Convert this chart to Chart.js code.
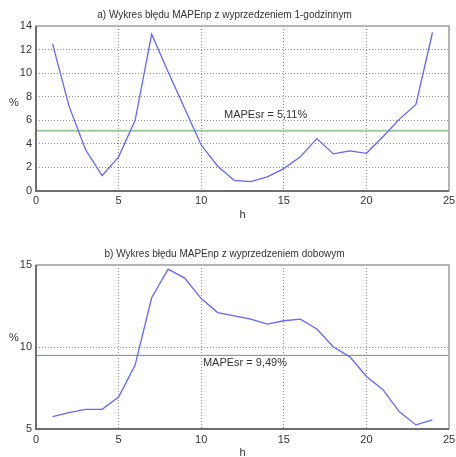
<!DOCTYPE html>
<html><head><meta charset="utf-8">
<script src="https://cdn.jsdelivr.net/npm/chart.js@4/dist/chart.umd.min.js"></script>
<style>
html,body{margin:0;padding:0;background:#fff;}
#w{position:relative;width:456px;height:457px;overflow:hidden;}
canvas{position:absolute;left:0;}
</style></head><body>
<div id="w">
<canvas id="c1" width="456" height="228" style="top:0;width:456px;height:228px"></canvas>
<canvas id="c2" width="456" height="229" style="top:228px;width:456px;height:229px"></canvas>
</div>
<script>
const hours = [1,2,3,4,5,6,7,8,9,10,11,12,13,14,15,16,17,18,19,20,21,22,23,24];
const errHourAhead = [12.5,7.2,3.5,1.3,2.9,6.0,13.3,10.1,7.0,3.9,2.1,0.9,0.8,1.2,1.9,2.9,4.45,3.15,3.4,3.2,4.6,6.1,7.35,13.45];
const errDayAhead = [5.75,6.0,6.2,6.2,6.95,8.9,13.0,14.75,14.2,12.95,12.1,11.9,11.7,11.4,11.6,11.7,11.1,10.0,9.4,8.2,7.4,6.05,5.25,5.55];
const meanHourAhead = 5.11;
const meanDayAhead = 9.49;
const titleTop = 'a) Wykres błędu MAPEnp z wyprzedzeniem 1-godzinnym';
const titleBottom = 'b) Wykres błędu MAPEnp z wyprzedzeniem dobowym';
const labelTop = 'MAPEsr = 5,11%';
const labelBottom = 'MAPEsr = 9,49%';
const xTicks = [0,5,10,15,20,25];
const yTicksTop = [0,2,4,6,8,10,12,14];
const yTicksBottom = [5,10,15];

const FONT = "'Liberation Sans', Arial, sans-serif";

function framePlugin(meanLabel, meanValue, labelX, labelDy, pctY, hY) {
  return {
    id: 'frame',
    afterDraw(chart) {
      const ctx = chart.ctx, a = chart.chartArea;
      const xs = chart.scales.x, ys = chart.scales.y;
      ctx.save();
      ctx.lineWidth = 2;
      ctx.strokeStyle = '#b4b4b4';
      ctx.beginPath();
      ctx.moveTo(a.left, a.top); ctx.lineTo(a.right, a.top); ctx.lineTo(a.right, a.bottom);
      ctx.stroke();
      ctx.strokeStyle = '#6e6e6e';
      ctx.beginPath();
      ctx.moveTo(a.left, a.top); ctx.lineTo(a.left, a.bottom); ctx.lineTo(a.right, a.bottom);
      ctx.stroke();
      ctx.fillStyle = '#333';
      ctx.font = '11px ' + FONT;
      ctx.textAlign = 'center';
      ctx.textBaseline = 'middle';
      ctx.fillText(meanLabel, xs.getPixelForValue(labelX), ys.getPixelForValue(meanValue) + labelDy);
      ctx.fillText('%', 14, pctY);
      ctx.fillText('h', (a.left + a.right) / 2, hY);
      ctx.restore();
    }
  };
}

function makeChart(cfg) {
  const {id, data, mean, title, yTicks, yMin, yMax, meanColor, meanWidth, titlePad, xAxisH, label, labelX, labelDy, pctY, hY, xPad} = cfg;
  return new Chart(document.getElementById(id), {
    type: 'line',
    data: {
      datasets: [
        {
          data: hours.map((h, i) => ({x: h, y: data[i]})),
          borderColor: '#6464ff', borderWidth: 1.3, pointRadius: 0, tension: 0, fill: false
        },
        {
          data: [{x: xTicks[0], y: mean}, {x: xTicks[xTicks.length - 1], y: mean}],
          borderColor: meanColor, borderWidth: meanWidth, pointRadius: 0, fill: false
        }
      ]
    },
    options: {
      responsive: false, animation: false, devicePixelRatio: 1,
      layout: {padding: {left: 0, right: 7, top: 0, bottom: 0}},
      plugins: {
        legend: {display: false}, tooltip: {enabled: false},
        title: {display: true, text: title, color: '#333', font: {family: FONT, size: 10, weight: 'normal'}, padding: titlePad}
      },
      scales: {
        x: {
          type: 'linear', min: 0, max: 25,
          afterBuildTicks: s => { s.ticks = xTicks.map(v => ({value: v})); },
          afterFit: s => { s.height = xAxisH; s.paddingRight = 0; s.paddingLeft = 0; },
          ticks: {color: '#333', font: {family: FONT, size: 11}, padding: xPad, maxRotation: 0, autoSkip: false},
          grid: {color: c => (c.tick && (c.tick.value === 0 || c.tick.value === 25)) ? 'rgba(0,0,0,0)' : '#8f8f8f', lineWidth: 1, drawTicks: false},
          border: {display: false, dash: [1, 2]}
        },
        y: {
          type: 'linear', min: yMin, max: yMax,
          afterBuildTicks: s => { s.ticks = yTicks.map(v => ({value: v})); },
          afterFit: s => { s.width = 36; s.paddingTop = 0; s.paddingBottom = 0; },
          ticks: {color: '#333', font: {family: FONT, size: 11}, padding: 4, autoSkip: false},
          grid: {color: c => (c.tick && (c.tick.value === yMin || c.tick.value === yMax)) ? 'rgba(0,0,0,0)' : '#8f8f8f', lineWidth: 1, drawTicks: false},
          border: {display: false, dash: [1, 2]}
        }
      }
    },
    plugins: [framePlugin(label, mean, labelX, labelDy, pctY, hY)]
  });
}

makeChart({id: 'c1', data: errHourAhead, mean: meanHourAhead, title: titleTop, yTicks: yTicksTop, yMin: 0, yMax: 14,
  meanColor: '#99cc99', meanWidth: 2, titlePad: {top: 9, bottom: 5}, xAxisH: 37, label: labelTop, labelX: 13.9, labelDy: -16,
  pctY: 103, hY: 215, xPad: 3});
makeChart({id: 'c2', data: errDayAhead, mean: meanDayAhead, title: titleBottom, yTicks: yTicksBottom, yMin: 5, yMax: 15,
  meanColor: '#55aa55', meanWidth: 1, titlePad: {top: 20, bottom: 5}, xAxisH: 28, label: labelBottom, labelX: 12.65, labelDy: 8,
  pctY: 110, hY: 225, xPad: 4});
</script>
</body></html>
